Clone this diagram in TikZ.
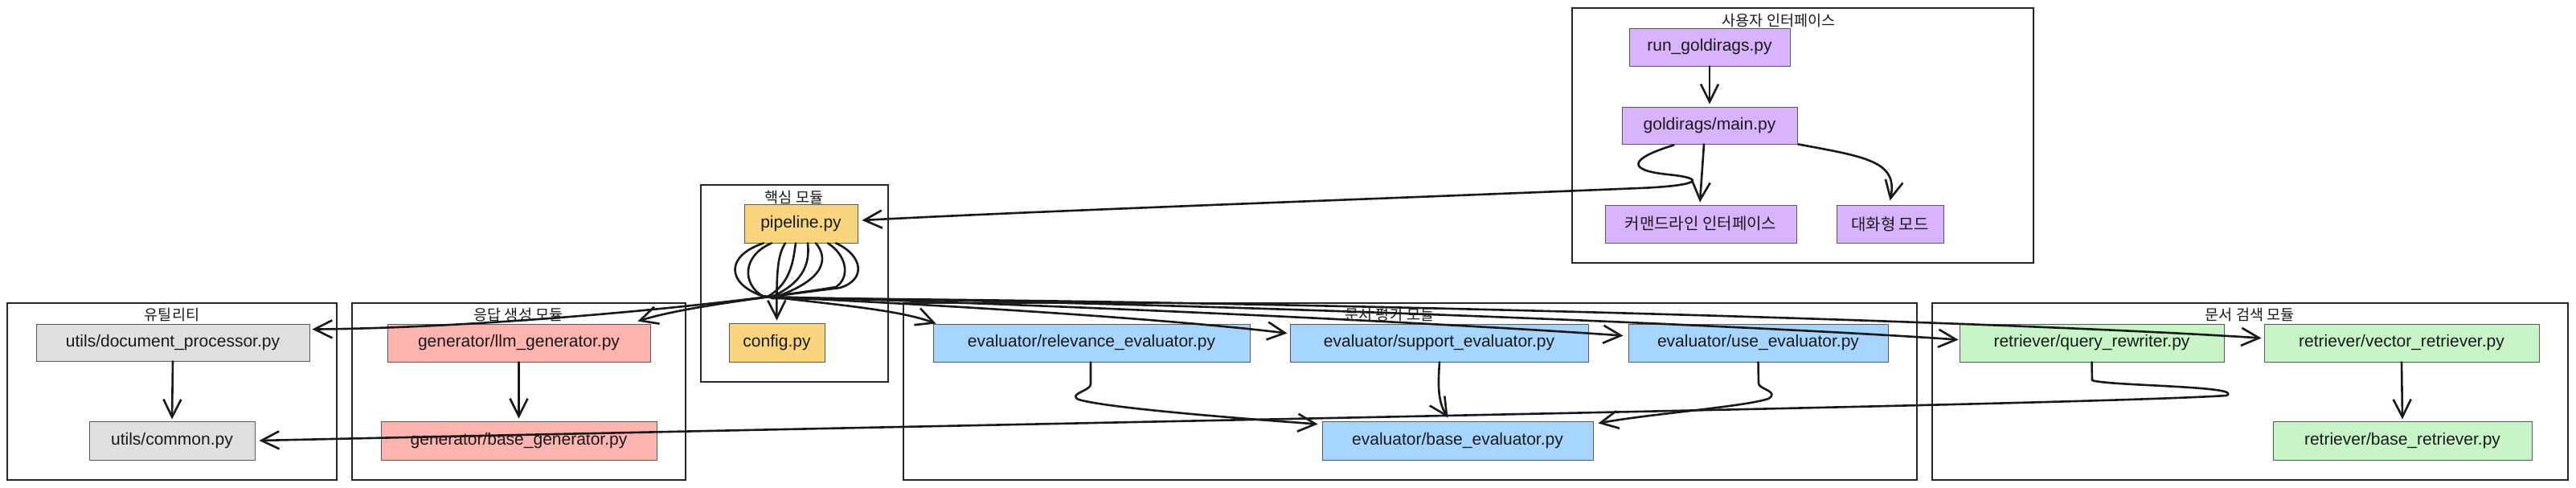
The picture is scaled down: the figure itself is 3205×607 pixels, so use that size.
\documentclass[tikz,border=0pt]{standalone}
\usepackage{fontspec}
\setmainfont{Liberation Sans}
\newfontfamily\kr{Noto Sans CJK KR}
\usetikzlibrary{arrows.meta,calc}
\definecolor{cpurple}{RGB}{216,180,254}
\definecolor{cyellow}{RGB}{249,214,124}
\definecolor{cgray}{RGB}{224,224,224}
\definecolor{csalmon}{RGB}{255,180,176}
\definecolor{cblue}{RGB}{166,214,255}
\definecolor{cgreen}{RGB}{200,245,200}
\begin{document}
\begin{tikzpicture}[x=1pt,y=-1pt,
  grp/.style={draw=black!85, line width=2pt, inner sep=0pt},
  box/.style={draw=black!65, line width=0.9pt, inner sep=0pt, text=black!90,
    font=\fontsize{21}{24}\selectfont},
  krbox/.style={box, font=\kr\fontsize{20}{24}\selectfont},
  gtitle/.style={inner sep=0pt, text=black!90, font=\kr\fontsize{18.5}{20}\selectfont},
  conn/.style={draw=black!90, line width=2.6pt, line cap=round, line join=round,
    -{Straight Barb[length=22pt,width=22pt]}}
]
\fill[white] (0,0) rectangle (3205,607);
\useasboundingbox (0,0) rectangle (3205,607);

% groups
\node[grp, minimum width=574pt, minimum height=317pt] (gui) at (2243,168.5) {};
\node[grp, minimum width=233pt, minimum height=245pt] (gcore) at (988.5,352.5) {};
\node[grp, minimum width=410pt, minimum height=220pt] (gutil) at (214,487) {};
\node[grp, minimum width=415pt, minimum height=220pt] (ggen) at (645.5,487) {};
\node[grp, minimum width=1261pt, minimum height=220pt] (geval) at (1754.5,487) {};
\node[grp, minimum width=791pt, minimum height=220pt] (gret) at (2799.5,487) {};

% group titles
\node[gtitle] (tui) at (2213,26) {사용자 인터페이스};
\node[gtitle] (tcore) at (988,246) {핵심 모듈};
\node[gtitle] (tutil) at (214,392) {유틸리티};
\node[gtitle] (tgen) at (645,392) {응답 생성 모듈};
\node[gtitle] (teval) at (1729,392) {문서 평가 모듈};
\node[gtitle] (tret) at (2799,392) {문서 검색 모듈};

% boxes
\node[box, fill=cpurple, minimum width=200pt, minimum height=47pt] (run) at (2127,58.5) {run\_goldirags.py};
\node[box, fill=cpurple, minimum width=218pt, minimum height=46pt] (main) at (2127,156) {goldirags/main.py};
\node[krbox, fill=cpurple, minimum width=238pt, minimum height=47pt] (cli) at (2116,278.5) {커맨드라인 인터페이스};
\node[krbox, fill=cpurple, minimum width=133pt, minimum height=47pt] (chat) at (2351.5,278.5) {대화형 모드};
\node[box, fill=cyellow, minimum width=141pt, minimum height=48pt] (pipe) at (996.5,278) {pipeline.py};
\node[box, fill=cyellow, minimum width=119pt, minimum height=48pt] (conf) at (966.5,426) {config.py};
\node[box, fill=cgray, minimum width=340pt, minimum height=46pt] (doc) at (215,426) {utils/document\_processor.py};
\node[box, fill=cgray, minimum width=206pt, minimum height=48pt] (common) at (214,548) {utils/common.py};
\node[box, fill=csalmon, minimum width=327pt, minimum height=47pt] (llm) at (645.5,426.5) {generator/llm\_generator.py};
\node[box, fill=csalmon, minimum width=343pt, minimum height=48pt] (bgen) at (645.5,548) {generator/base\_generator.py};
\node[box, fill=cblue, minimum width=394pt, minimum height=47pt] (rel) at (1358,426.5) {evaluator/relevance\_evaluator.py};
\node[box, fill=cblue, minimum width=371pt, minimum height=47pt] (sup) at (1790.5,426.5) {evaluator/support\_evaluator.py};
\node[box, fill=cblue, minimum width=323pt, minimum height=47pt] (use) at (2187.5,426.5) {evaluator/use\_evaluator.py};
\node[box, fill=cblue, minimum width=337pt, minimum height=48pt] (beval) at (1813.5,548) {evaluator/base\_evaluator.py};
\node[box, fill=cgreen, minimum width=329pt, minimum height=47pt] (query) at (2602.5,426.5) {retriever/query\_rewriter.py};
\node[box, fill=cgreen, minimum width=342pt, minimum height=47pt] (vec) at (2988,426.5) {retriever/vector\_retriever.py};
\node[box, fill=cgreen, minimum width=322pt, minimum height=48pt] (bret) at (2989,548) {retriever/base\_retriever.py};

% user interface edges
\draw[conn] (run.south) -- ($(main.north)+(0,-3)$);
\draw[conn] ($(main.south)+(-7,0)$) -- ($(cli.north)+(-1,-3)$);
\draw[conn] ($(main.south east)+(1,0)$) .. controls (2320,195) and (2362,200) .. ($(chat.north)+(0,-5)$);
\draw[conn] ($(main.south west)+(65,1)$) .. controls (2025,198) and (2025,212) .. (2075,217)
  .. controls (2125,222) and (2115,231) .. (2040,234)
  .. controls (1700,248) and (1300,262) .. ($(pipe.east)+(5,-4)$);

% pipeline fan
\draw[conn] ($(pipe.south)+(-19.5,0)$) .. controls (967,318) and (966,340) .. ($(conf.north)+(0,-3)$);
\draw[conn] ($(pipe.south)+(-46.5,0)$) .. controls (903,318) and (903,352) .. (948,368)
  .. controls (1050,380) and (1120,386) .. ($(rel.north west)+(4,0)$);
\draw[conn] ($(pipe.south)+(-36.5,0)$) .. controls (923,318) and (923,354) .. (950,369)
  .. controls (1150,378) and (1450,396) .. ($(sup.north west)+(-3,12)$);
\draw[conn] ($(pipe.south)+(-6.5,0)$) .. controls (987,322) and (985,352) .. (955,369)
  .. controls (1300,378) and (1800,402) .. ($(use.north west)+(-6,15)$);
\draw[conn] ($(pipe.south)+(8.5,0)$) .. controls (1007,322) and (1005,350) .. (958,370)
  .. controls (1500,376) and (2200,406) .. ($(query.north west)+(-1,20)$);
\draw[conn] ($(pipe.south)+(18.5,0)$) .. controls (1030,320) and (1030,348) .. (960,371)
  .. controls (1600,374) and (2500,400) .. ($(vec.north west)+(-3,18)$);
\draw[conn] ($(pipe.south)+(33.5,0)$) .. controls (1054,318) and (1058,345) .. (1040,357)
  .. controls (900,380) and (600,408) .. ($(doc.north east)+(3,7)$);
\draw[conn] ($(pipe.south)+(43.5,0)$) .. controls (1074,318) and (1078,348) .. (1045,358)
  .. controls (950,370) and (850,382) .. ($(llm.north east)+(-16,-3)$);

% internal module edges
\draw[conn] (doc.south) -- ($(common.north)+(0,-2)$);
\draw[conn] (llm.south) -- ($(bgen.north)+(0,-3)$);
\draw[conn] (vec.south) -- ($(bret.north)+(0,-2)$);
\draw[conn] ($(rel.south)+(-1,0)$) -- (1357,478) .. controls (1357,486) and (1328,490) .. (1342,497)
  .. controls (1380,508) and (1550,521) .. ($(beval.north west)+(-5,4)$);
\draw[conn] ($(sup.south)+(0.5,0)$) .. controls (1789,480) and (1789,500) .. ($(beval.north)+(-12,-4)$);
\draw[conn] (use.south) -- (2188,477) .. controls (2188,484) and (2215,487) .. (2200,496)
  .. controls (2170,506) and (2050,515) .. ($(beval.north east)+(6,3)$);
\draw[conn] (query.south) -- (2603,473) .. controls (2620,480) and (2795,480) .. (2770,492)
  .. controls (2600,503) and (1500,522) .. ($(common.east)+(5,0)$);
\end{tikzpicture}
\end{document}
